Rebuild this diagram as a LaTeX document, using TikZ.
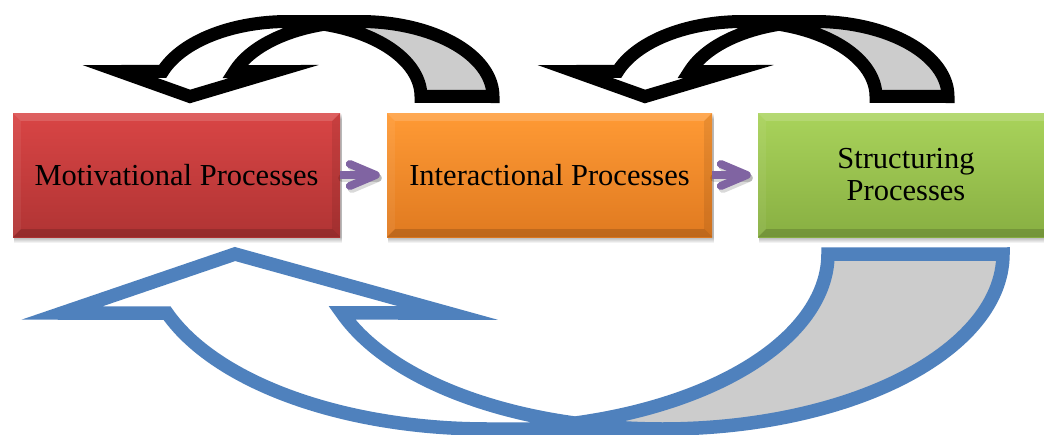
\documentclass[tikz,border=0pt]{standalone}
\usepackage{fontspec}
\setmainfont{Liberation Serif}
\usetikzlibrary{calc}
\definecolor{backgray}{HTML}{CCCCCC}
\definecolor{bluel}{HTML}{4F81BD}
\definecolor{purp}{HTML}{8064A2}
\definecolor{redT}{HTML}{D94545}
\definecolor{redB}{HTML}{B03434}
\definecolor{orT}{HTML}{FF9A35}
\definecolor{orB}{HTML}{E07A20}
\definecolor{grT}{HTML}{A9D35B}
\definecolor{grB}{HTML}{88AF42}
\tikzset{
  ee/.style n args={6}{insert path={-- plot[domain=0:1,samples=60,variable=\t]({#1+#3*cos(#5+(#6-#5)*\t)},{#2+#4*sin(#5+(#6-#5)*\t)})}},
  blackline/.style={draw=black, line width=13pt, line join=miter},
  blueline/.style={draw=bluel, line width=13.5pt, line join=miter},
  box/.style={inner sep=0pt, minimum height=124pt, font=\fontsize{30.5}{32}\selectfont, text=black},
  shaft/.style={draw=purp, line width=8pt, line cap=butt},
  ahead/.style={draw=purp, line width=8pt, line cap=round, line join=round},
  shd/.style={draw=black, opacity=0.15, line width=8pt, line cap=round, line join=round},
  bevlight/.style={fill=white, opacity=#1},
  bevdark/.style={fill=black, opacity=#1},
}
\begin{document}
\begin{tikzpicture}[x=1pt,y=-1pt]
\useasboundingbox (0,0) rectangle (1044,434);
\clip (0,0) rectangle (1044,434);
\fill[white] (0,0) rectangle (1044,434);

% box shadows
\foreach \xa/\xb in {13/340, 387/712, 758/1054}{
  \foreach \k in {1,...,6}{
    \fill[black, opacity=0.05] (\xa+1,113+\k) rectangle (\xb+1.5,237+\k);
  }
}

% boxes
\node[box, top color=redT, bottom color=redB, minimum width=327pt] (m) at (176.5,175) {Motivational Processes};
\node[box, top color=orT, bottom color=orB, minimum width=325pt] (i) at (549.5,175) {Interactional Processes};
\node[box, top color=grT, bottom color=grB, minimum width=296pt, align=center] (s) at (906,175) {Structuring\\Processes};

% bevels
\foreach \n in {m,i,s}{
  \fill[bevlight=0.15] (\n.north west) -- (\n.north east) -- ($(\n.north east)+(-8,8)$) -- ($(\n.north west)+(8,8)$) -- cycle;
  \fill[bevlight=0.06] (\n.north west) -- ($(\n.north west)+(8,8)$) -- ($(\n.south west)+(8,-8)$) -- (\n.south west) -- cycle;
  \fill[bevdark=0.08] (\n.north east) -- (\n.south east) -- ($(\n.south east)+(-8,-8)$) -- ($(\n.north east)+(-8,8)$) -- cycle;
  \fill[bevdark=0.15] (\n.south west) -- ($(\n.south west)+(8,-8)$) -- ($(\n.south east)+(-8,-8)$) -- (\n.south east) -- cycle;
}

% purple connectors
\foreach \a/\b in {m/i, i/s}{
  \draw[shd] ($(\a.east)+(2,3)$) -- ($(\b.west)+(-9,3)$);
  \draw[shd] ($(\b.west)+(-35,-8)$) -- ($(\b.west)+(-9,3)$) -- ($(\b.west)+(-35,14)$);
  \draw[shaft] (\a.east) -- ($(\b.west)+(-11,0)$);
  \draw[ahead] ($(\b.west)+(-37,-11)$) -- ($(\b.west)+(-11,0)$) -- ($(\b.west)+(-37,11)$);
}

% top curved arrows
\foreach \ox in {0,455}{
\begin{scope}[xshift=\ox pt]
  \fill[backgray] (324,24.3) [ee={288}{96.5}{133}{75}{285.7}{360}] -- (493,96.5) [ee={360}{96.5}{133}{75}{360}{254.3}] -- cycle;
  \fill[white] (190,96.5) -- (274,71.5) [ee={360}{96.5}{133}{75}{199.47}{270}] [ee={288}{96.5}{133}{75}{270}{199.47}] -- (120,71.5) -- cycle;
  \draw[blackline] (324,24.3) [ee={288}{96.5}{133}{75}{285.7}{360}] -- (493,96.5) [ee={360}{96.5}{133}{75}{360}{270}] [ee={288}{96.5}{133}{75}{270}{199.47}] -- (120,71.5) -- (190,96.5) -- (274,71.5) [ee={360}{96.5}{133}{75}{199.47}{270}];
\end{scope}
}

% bottom curved arrow
\fill[backgray] (575,423) [ee={487.5}{254}{340.5}{175}{75.1}{0}] -- (1003,254) [ee={662.5}{254}{340.5}{175}{0}{104.9}] -- cycle;
\fill[white] (235,254) -- (448,313) [ee={662.5}{254}{340.5}{175}{160.3}{90}] [ee={487.5}{254}{340.5}{175}{90}{160.3}] -- (62,313) -- cycle;
\draw[blueline] (575,423) [ee={487.5}{254}{340.5}{175}{75.1}{0}] -- (1003,254) [ee={662.5}{254}{340.5}{175}{0}{90}] [ee={487.5}{254}{340.5}{175}{90}{160.3}] -- (62,313) -- (235,254) -- (448,313) [ee={662.5}{254}{340.5}{175}{160.3}{90}];
\end{tikzpicture}
\end{document}
